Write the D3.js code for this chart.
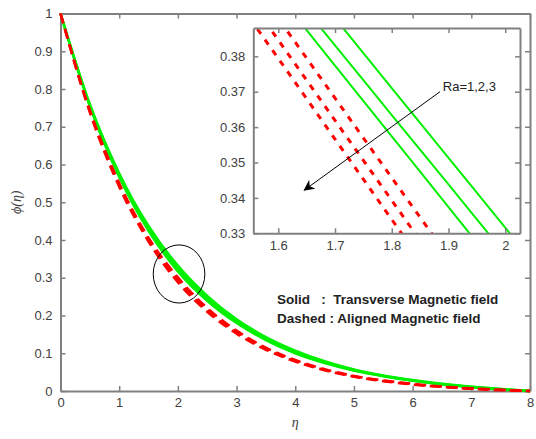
<!DOCTYPE html>
<html>
<head>
<meta charset="utf-8">
<script src="https://cdn.jsdelivr.net/npm/d3@7"></script>
<style>
  body { margin: 0; background: #fff; }
  text { font-family: "Liberation Sans", Arial, sans-serif; }
</style>
</head>
<body>
<div id="container"></div>
<script>
// eta grid and phi values (Ra = 1, 2, 3)
const eta = [0, 0.5, 1, 1.5, 2, 2.5, 3, 3.5, 4, 4.5, 5, 5.5, 6, 6.5, 7, 7.5, 8];
const transRa1 = [1, 0.760, 0.577, 0.437, 0.332, 0.252, 0.190, 0.143, 0.107, 0.079, 0.057, 0.041, 0.029, 0.019, 0.011, 0.005, 0];
const transRa2 = [1, 0.757, 0.572, 0.430, 0.324, 0.245, 0.185, 0.139, 0.103, 0.076, 0.055, 0.040, 0.028, 0.018, 0.011, 0.005, 0];
const transRa3 = [1, 0.754, 0.567, 0.424, 0.317, 0.239, 0.180, 0.135, 0.100, 0.074, 0.054, 0.039, 0.027, 0.018, 0.010, 0.004, 0];
const alignRa1 = [1, 0.744, 0.551, 0.406, 0.301, 0.220, 0.160, 0.115, 0.082, 0.058, 0.040, 0.028, 0.019, 0.012, 0.007, 0.003, 0];
const alignRa2 = [1, 0.741, 0.546, 0.401, 0.294, 0.215, 0.156, 0.112, 0.080, 0.056, 0.039, 0.027, 0.018, 0.011, 0.006, 0.003, 0];
const alignRa3 = [1, 0.738, 0.541, 0.396, 0.288, 0.210, 0.152, 0.109, 0.078, 0.055, 0.038, 0.026, 0.017, 0.011, 0.006, 0.002, 0];

// zoomed-in values for the inset
const insetEta = [1.55, 1.6, 1.7, 1.8, 1.9, 2.0, 2.05];
const insetTransRa1 = [0.4204, 0.4105, 0.3908, 0.3710, 0.3513, 0.3316, 0.3217];
const insetTransRa2 = [0.4126, 0.4027, 0.3831, 0.3634, 0.3438, 0.3241, 0.3143];
const insetTransRa3 = [0.4074, 0.3974, 0.3774, 0.3574, 0.3374, 0.3174, 0.3074];
const insetAlignRa1 = [0.4019, 0.3907, 0.3682, 0.3457, 0.3233, 0.3008, 0.2896];
const insetAlignRa2 = [0.3959, 0.3846, 0.3619, 0.3393, 0.3166, 0.2940, 0.2826];
const insetAlignRa3 = [0.3907, 0.3794, 0.3566, 0.3339, 0.3111, 0.2884, 0.2770];

const xTicks = [0, 1, 2, 3, 4, 5, 6, 7, 8];
const yTicks = [0, 0.1, 0.2, 0.3, 0.4, 0.5, 0.6, 0.7, 0.8, 0.9, 1];
const insetXTicks = [1.6, 1.7, 1.8, 1.9, 2];
const insetYTicks = [0.33, 0.34, 0.35, 0.36, 0.37, 0.38];

const width = 536;
const height = 439;
const axisColor = "#808080";
const textColor = "#404040";

const svg = d3.select("#container")
    .append("svg")
    .attr("width", width)
    .attr("height", height);

// main scales
const x = d3.scaleLinear().domain([0, 8]).range([60.5, 530]);
const y = d3.scaleLinear().domain([0, 1]).range([391, 13.5]);

//helper to draw a matlab-like box with inward ticks
function drawBox(g, xs, ys, xt, yt, xfmt, yfmt) {
    const [x0, x1] = xs.range();
    const [y0, y1] = ys.range();
    g.append("g")
        .attr("transform", `translate(0,${y0})`)
        .call(d3.axisBottom(xs).tickValues(xt).tickSize(-5).tickSizeOuter(0).tickPadding(7).tickFormat(xfmt));
    g.append("g")
        .attr("transform", `translate(0,${y1})`)
        .call(d3.axisTop(xs).tickValues(xt).tickSize(-5).tickSizeOuter(0).tickFormat(""));
    g.append("g")
        .attr("transform", `translate(${x0},0)`)
        .call(d3.axisLeft(ys).tickValues(yt).tickSize(-5).tickSizeOuter(0).tickPadding(8).tickFormat(yfmt));
    g.append("g")
        .attr("transform", `translate(${x1},0)`)
        .call(d3.axisRight(ys).tickValues(yt).tickSize(-5).tickSizeOuter(0).tickFormat(""));
    g.selectAll(".domain").attr("stroke", axisColor).attr("stroke-width", 2);
    g.selectAll(".tick line").attr("stroke", axisColor).attr("stroke-width", 1.5);
    g.selectAll(".tick text")
        .attr("fill", textColor)
        .style("font-size", "13px")
        .style("font-family", "Liberation Sans, Arial, sans-serif");
}

const mainG = svg.append("g");
drawBox(mainG, x, y, xTicks, yTicks, d3.format("d"), d => d === 0 ? "0" : d3.format(".1f")(d).replace(/\.0$/, ""));

const line = d3.line()
    .x(d => x(d[0]))
    .y(d => y(d[1]))
    .curve(d3.curveMonotoneX);

const transSeries = [transRa1, transRa2, transRa3];
const alignSeries = [alignRa1, alignRa2, alignRa3];

transSeries.forEach(vals => {
    mainG.append("path")
        .datum(eta.map((e, i) => [e, vals[i]]))
        .attr("d", line)
        .attr("fill", "none")
        .attr("stroke", "#00f000")
        .attr("stroke-width", 2.5);
});
alignSeries.forEach(vals => {
    mainG.append("path")
        .datum(eta.map((e, i) => [e, vals[i]]))
        .attr("d", line)
        .attr("fill", "none")
        .attr("stroke", "#ff0000")
        .attr("stroke-width", 2.5)
        .attr("stroke-dasharray", "10,6");
});

// circle marking the zoomed area
mainG.append("ellipse")
    .attr("cx", x(2.02))
    .attr("cy", y(0.31))
    .attr("rx", x(2.02 + 0.44) - x(2.02))
    .attr("ry", y(0.31) - y(0.31 + 0.077))
    .attr("fill", "none")
    .attr("stroke", "#000")
    .attr("stroke-width", 1);

// axis labels
svg.append("text")
    .attr("x", x(4))
    .attr("y", 427)
    .attr("text-anchor", "middle")
    .style("font-family", "Liberation Serif, serif")
    .style("font-style", "italic")
    .style("font-size", "14px")
    .attr("fill", textColor)
    .text("η");

svg.append("text")
    .attr("transform", `translate(21,${y(0.5)}) rotate(-90)`)
    .attr("text-anchor", "middle")
    .style("font-family", "Liberation Serif, serif")
    .style("font-style", "italic")
    .style("font-size", "14px")
    .attr("fill", textColor)
    .text("ϕ(η)");

// legend text
const legendLines = ["Solid   :  Transverse Magnetic field", "Dashed : Aligned Magnetic field"];
legendLines.forEach((t, i) => {
    svg.append("text")
        .attr("x", 277)
        .attr("y", 300 + i * 19)
        .attr("dominant-baseline", "middle")
        .attr("xml:space", "preserve")
        .style("white-space", "pre")
        .style("font-weight", "bold")
        .style("font-size", "13.5px")
        .attr("fill", "#222")
        .text(t);
});

// inset
const ix = d3.scaleLinear().domain([1.556, 2.026]).range([253.3, 520]);
const iy = d3.scaleLinear().domain([0.33, 0.388]).range([233.3, 28]);

const insetG = svg.append("g");
insetG.append("rect")
    .attr("x", 253.3)
    .attr("y", 28)
    .attr("width", 520 - 253.3)
    .attr("height", 233.3 - 28)
    .attr("fill", "#fff");

svg.append("clipPath")
    .attr("id", "insetClip")
    .append("rect")
    .attr("x", 253.3)
    .attr("y", 28)
    .attr("width", 520 - 253.3)
    .attr("height", 233.3 - 28);

const iline = d3.line()
    .x(d => ix(d[0]))
    .y(d => iy(d[1]))
    .curve(d3.curveMonotoneX);

const curvesG = insetG.append("g").attr("clip-path", "url(#insetClip)");
[insetTransRa1, insetTransRa2, insetTransRa3].forEach(vals => {
    curvesG.append("path")
        .datum(insetEta.map((e, i) => [e, vals[i]]))
        .attr("d", iline)
        .attr("fill", "none")
        .attr("stroke", "#00f000")
        .attr("stroke-width", 2);
});
[insetAlignRa1, insetAlignRa2, insetAlignRa3].forEach(vals => {
    curvesG.append("path")
        .datum(insetEta.map((e, i) => [e, vals[i]]))
        .attr("d", iline)
        .attr("fill", "none")
        .attr("stroke", "#ff0000")
        .attr("stroke-width", 3)
        .attr("stroke-dasharray", "6,7");
});

drawBox(insetG, ix, iy, insetXTicks, insetYTicks, d => d === 2 ? "2" : d3.format(".1f")(d), d3.format(".2f"));

// arrow for Ra
svg.append("defs").append("marker")
    .attr("id", "arrowHead")
    .attr("viewBox", "0 0 10 10")
    .attr("refX", 9)
    .attr("refY", 5)
    .attr("markerWidth", 11)
    .attr("markerHeight", 11)
    .attr("markerUnits", "userSpaceOnUse")
    .attr("orient", "auto")
    .append("path")
    .attr("d", "M0,0 L10,5 L0,10 L3,5 Z")
    .attr("fill", "#000");

insetG.append("line")
    .attr("x1", ix(1.885))
    .attr("y1", iy(0.370))
    .attr("x2", ix(1.646))
    .attr("y2", iy(0.3422))
    .attr("stroke", "#000")
    .attr("stroke-width", 1)
    .attr("marker-end", "url(#arrowHead)");

insetG.append("text")
    .attr("x", ix(1.89))
    .attr("y", iy(0.3712))
    .attr("dominant-baseline", "middle")
    .style("font-size", "13px")
    .attr("fill", "#222")
    .text("Ra=1,2,3");
</script>
</body>
</html>
